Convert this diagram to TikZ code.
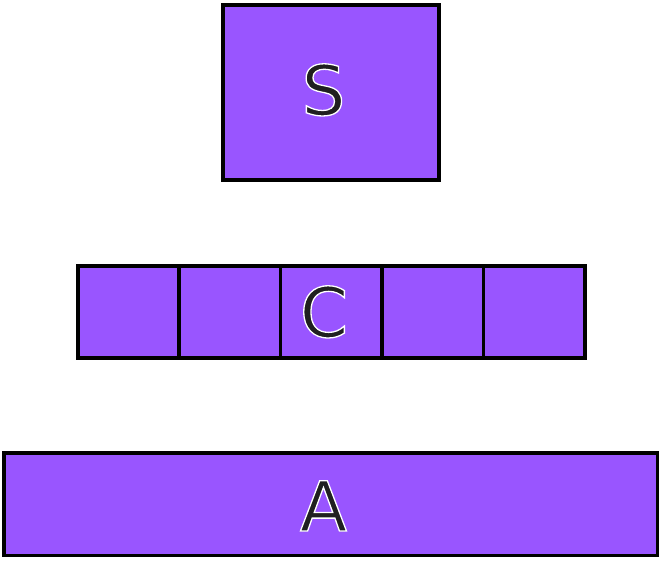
\documentclass[tikz,border=0pt]{standalone}
\usepackage{fontspec}
\setmainfont{DejaVu Sans}
\definecolor{boxfill}{HTML}{9955FF}
\definecolor{ink}{HTML}{202020}
\newcommand{\halotext}[1]{\special{pdf:literal direct 2 Tr 1 1 1 RG 1.3 w}#1\special{pdf:literal direct 0 Tr}}
\tikzset{
  block/.style={draw=black, line width=3.6pt, fill=boxfill},
  lbl/.style={text=ink, inner sep=0pt, anchor=base, font=\fontsize{69}{69}\selectfont},
}
\begin{document}
\begin{tikzpicture}[x=1pt,y=-1pt]
\useasboundingbox (0,0) rectangle (661,560);
% S
\draw[block] (222.8,4.8) rectangle (438.8,179.8);
\node[lbl] (S) at (323.5,115) {\halotext{S}};
% C row
\foreach \i in {0,...,4}{
  \draw[block] ({77.8+101.4*\i},265.8) rectangle ({77.8+101.4*(\i+1)},357.8);
}
\node[lbl] (C) at (324,337) {\halotext{C}};
% A
\draw[block] (3.8,452.8) rectangle (657.5,555.5);
\node[lbl] (A) at (323.5,531) {\halotext{A}};
\end{tikzpicture}
\end{document}
